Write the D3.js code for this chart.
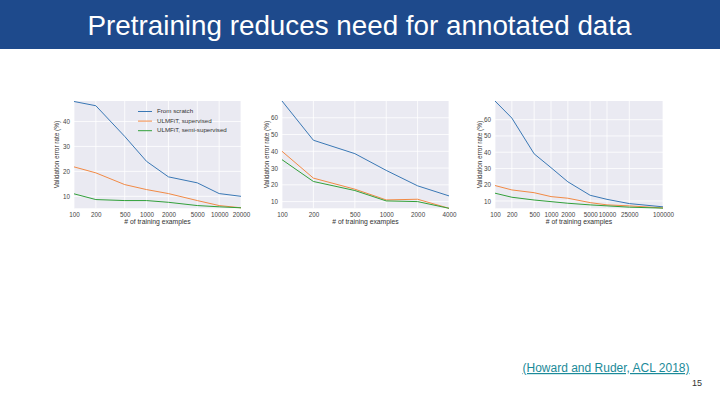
<!DOCTYPE html>
<html>
<head>
<meta charset="utf-8">
<script src="https://cdn.jsdelivr.net/npm/d3@7"></script>
<style>
  html, body { margin: 0; padding: 0; background: #ffffff; }
  svg { display: block; }
</style>
</head>
<body>
<svg id="chart" width="720" height="405"></svg>
<script>
// ---------------- DATA ----------------
const titleText = "Pretraining reduces need for annotated data";
const citationText = "(Howard and Ruder, ACL 2018)";
const pageNumber = "15";
const seriesNames = ["From scratch", "ULMFiT, supervised", "ULMFiT, semi-supervised"];
const xLabel = "# of training examples";
const yLabel = "Validation error rate (%)";

// Panel 1
const xs1 = [100, 200, 500, 1000, 2000, 5000, 10000, 20000];
const scratch1 = [48, 46.3, 34, 24, 17.8, 15.4, 11.1, 10];
const sup1 = [21.8, 19.4, 14.7, 12.7, 11.1, 8.3, 6.3, 5.4];
const semi1 = [11, 8.7, 8.3, 8.3, 7.6, 6.3, 5.8, 5.4];
const yTicks1 = [10, 20, 30, 40];

// Panel 2
const xs2 = [100, 200, 500, 1000, 2000, 4000];
const scratch2 = [70, 46.6, 38.6, 28.6, 19.4, 13.4];
const sup2 = [40, 24, 17.4, 11, 11.4, 6];
const semi2 = [35, 22, 16.6, 10.4, 10, 6];
const yTicks2 = [10, 20, 30, 40, 50, 60];

// Panel 3
const xs3 = [100, 200, 500, 1000, 2000, 5000, 10000, 25000, 100000];
const scratch3 = [71.5, 61, 39, 30.5, 21.8, 13.5, 11, 8.4, 6.4];
const sup3 = [19.5, 16.8, 15.1, 12.7, 11.7, 9, 7.6, 7, 5.7];
const semi3 = [14.8, 12.3, 10.6, 9.6, 8.6, 7.6, 7, 6.2, 5.6];
const yTicks3 = [10, 20, 30, 40, 50, 60];

const colors = ["#3a78b5", "#f28a45", "#32a03a"];

// ---------------- DRAW ----------------
const svg = d3.select("#chart");
const font = "Liberation Sans, Arial, sans-serif";

// Title bar
svg.append("rect").attr("x", 0).attr("y", 0).attr("width", 720).attr("height", 49)
  .attr("fill", "#1e4a8c");
svg.append("text").attr("x", 359.5).attr("y", 35).attr("text-anchor", "middle")
  .attr("font-family", font).attr("font-size", 27.8)
  .attr("fill", "#ffffff").text(titleText);

const panels = [
  { xs: xs1, series: [scratch1, sup1, semi1], yTicks: yTicks1, yDomain: [5.2, 48.2],
    left: 74, right: 241, ylabX: 57, legend: true },
  { xs: xs2, series: [scratch2, sup2, semi2], yTicks: yTicks2, yDomain: [6, 70],
    left: 282, right: 449, ylabX: 267.5, legend: false },
  { xs: xs3, series: [scratch3, sup3, semi3], yTicks: yTicks3, yDomain: [5.5, 71.5],
    left: 495, right: 663, ylabX: 480, legend: false }
];
const plotTop = 101, plotBottom = 208.3;

panels.forEach(p => {
  const x = d3.scaleLog().domain([p.xs[0], p.xs[p.xs.length - 1]]).range([p.left, p.right]);
  const y = d3.scaleLinear().domain(p.yDomain).range([plotBottom, plotTop]);
  const g = svg.append("g");

  g.append("rect").attr("x", p.left).attr("y", plotTop)
    .attr("width", p.right - p.left).attr("height", plotBottom - plotTop).attr("fill", "#eaeaf2");

  // grid
  g.selectAll(".vg").data(p.xs).enter().append("line")
    .attr("x1", d => x(d)).attr("x2", d => x(d)).attr("y1", plotTop).attr("y2", plotBottom)
    .attr("stroke", "#ffffff").attr("stroke-width", 0.8);
  g.selectAll(".hg").data(p.yTicks).enter().append("line")
    .attr("x1", p.left).attr("x2", p.right).attr("y1", d => y(d)).attr("y2", d => y(d))
    .attr("stroke", "#ffffff").attr("stroke-width", 0.8);

  // axes (labels only)
  const xAxis = d3.axisBottom(x).tickValues(p.xs).tickFormat(d3.format("d")).tickSize(0).tickPadding(4);
  const xa = g.append("g").attr("transform", `translate(0,${plotBottom})`).call(xAxis);
  const yAxis = d3.axisLeft(y).tickValues(p.yTicks).tickFormat(d3.format("d")).tickSize(0).tickPadding(4);
  const ya = g.append("g").attr("transform", `translate(${p.left},0)`).call(yAxis);
  [xa, ya].forEach(a => {
    a.select(".domain").remove();
    a.selectAll("text").attr("font-family", font)
      .attr("font-size", 6.3).attr("fill", "#444");
  });

  // series lines
  const line = d3.line().x(d => x(d[0])).y(d => y(d[1]));
  p.series.forEach((s, i) => {
    g.append("path").datum(p.xs.map((v, j) => [v, s[j]]))
      .attr("d", line).attr("fill", "none").attr("stroke", colors[i]).attr("stroke-width", 1);
  });

  // axis labels
  g.append("text").attr("x", (p.left + p.right) / 2).attr("y", 223.5).attr("text-anchor", "middle")
    .attr("font-family", font).attr("font-size", 6.8).attr("fill", "#333")
    .text(xLabel);
  g.append("text").attr("transform", `translate(${p.ylabX},${(plotTop + plotBottom) / 2}) rotate(-90)`)
    .attr("text-anchor", "middle").attr("dominant-baseline", "middle")
    .attr("font-family", font).attr("font-size", 6.4).attr("fill", "#333")
    .text(yLabel);

  if (p.legend) {
    const lg = g.append("g");
    seriesNames.forEach((n, i) => {
      const yy = 111.5 + i * 9.6;
      lg.append("line").attr("x1", 138).attr("x2", 152).attr("y1", yy).attr("y2", yy)
        .attr("stroke", colors[i]).attr("stroke-width", 1);
      lg.append("text").attr("x", 157).attr("y", yy).attr("dominant-baseline", "middle")
        .attr("font-family", font).attr("font-size", 6.2)
        .attr("fill", "#333").text(n);
    });
  }
});

// citation
svg.append("text").attr("x", 606).attr("y", 372).attr("text-anchor", "middle")
  .attr("font-family", font).attr("font-size", 12)
  .attr("fill", "#1b8a99").attr("text-decoration", "underline").text(citationText);
svg.append("text").attr("x", 702).attr("y", 386).attr("text-anchor", "end")
  .attr("font-family", font).attr("font-size", 9)
  .attr("fill", "#333").text(pageNumber);
</script>
</body>
</html>
